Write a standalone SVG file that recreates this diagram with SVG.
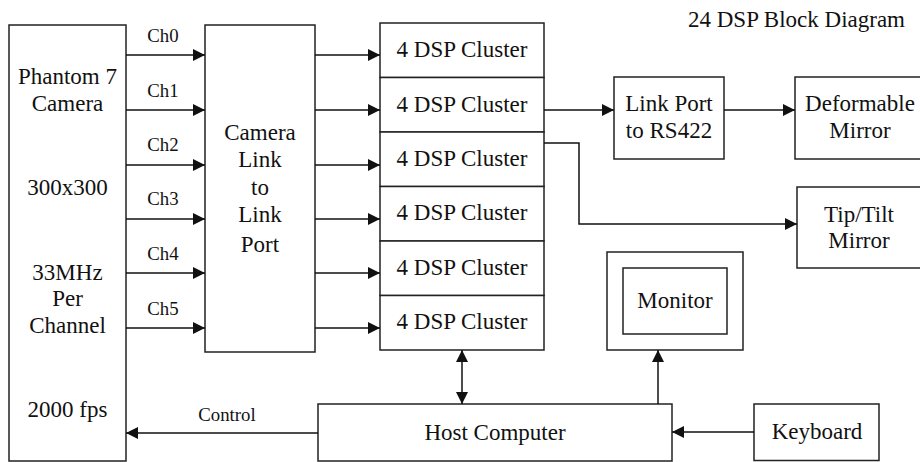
<svg xmlns="http://www.w3.org/2000/svg" width="920" height="462" viewBox="0 0 920 462" font-family="'Liberation Serif', 'Times New Roman', serif">
<defs>
<style>
.box{fill:#fff;stroke:#222;stroke-width:1.5}
.ln{fill:none;stroke:#111;stroke-width:1.5}
.t,.s{font-family:"Liberation Serif","Times New Roman",serif;fill:#111;text-anchor:middle}
.t{font-size:23px}
.s{font-size:18.8px}
</style>
<marker id="ah" markerUnits="userSpaceOnUse" markerWidth="12" markerHeight="12" refX="12" refY="6" orient="auto-start-reverse" viewBox="0 0 12 12">
<path d="M0,0 L12,6 L0,12 z" fill="#111"/>
</marker>
</defs>
<rect width="920" height="462" fill="#fff"/>
<text class="t" x="905" y="27" style="text-anchor:end">24 DSP Block Diagram</text>

<g id="camera">
<rect class="box" x="9" y="25" width="117" height="436"/>
<text class="t" x="67.5" y="84">Phantom 7</text>
<text class="t" x="67.5" y="111">Camera</text>
<text class="t" x="67.5" y="195">300x300</text>
<text class="t" x="67.5" y="280">33MHz</text>
<text class="t" x="67.5" y="306">Per</text>
<text class="t" x="67.5" y="333">Channel</text>
<text class="t" x="67.5" y="417">2000 fps</text>
</g>

<g id="camlink">
<rect class="box" x="205" y="25" width="110" height="327"/>
<text class="t" x="260" y="140">Camera</text>
<text class="t" x="260" y="167">Link</text>
<text class="t" x="260" y="195">to</text>
<text class="t" x="260" y="222">Link</text>
<text class="t" x="260" y="252">Port</text>
</g>

<g id="dsp0"><rect class="box" x="380" y="23" width="164" height="54.5"/><text class="t" x="462" y="57">4 DSP Cluster</text></g>
<g id="dsp1"><rect class="box" x="380" y="77.5" width="164" height="54.5"/><text class="t" x="462" y="112">4 DSP Cluster</text></g>
<g id="dsp2"><rect class="box" x="380" y="132" width="164" height="54.5"/><text class="t" x="462" y="166">4 DSP Cluster</text></g>
<g id="dsp3"><rect class="box" x="380" y="186.5" width="164" height="54.5"/><text class="t" x="462" y="220">4 DSP Cluster</text></g>
<g id="dsp4"><rect class="box" x="380" y="241" width="164" height="54.5"/><text class="t" x="462" y="275">4 DSP Cluster</text></g>
<g id="dsp5"><rect class="box" x="380" y="295.5" width="164" height="54.5"/><text class="t" x="462" y="329">4 DSP Cluster</text></g>

<g id="linkport">
<rect class="box" x="614" y="77" width="110" height="82"/>
<text class="t" x="669" y="111">Link Port</text>
<text class="t" x="669" y="138">to RS422</text>
</g>

<g id="deformable">
<rect class="box" x="795" y="77" width="130" height="82"/>
<text class="t" x="860" y="111">Deformable</text>
<text class="t" x="860" y="138">Mirror</text>
</g>

<g id="tiptilt">
<rect class="box" x="797" y="187" width="128" height="81"/>
<text class="t" x="859" y="222">Tip/Tilt</text>
<text class="t" x="859" y="248">Mirror</text>
</g>

<g id="monitor">
<rect class="box" x="607" y="252" width="136" height="98"/>
<rect class="box" x="623" y="268" width="104" height="66"/>
<text class="t" x="675" y="308">Monitor</text>
</g>

<g id="host">
<rect class="box" x="318" y="404" width="354" height="57"/>
<text class="t" x="495" y="440">Host Computer</text>
</g>

<g id="keyboard">
<rect class="box" x="754" y="404" width="125" height="56.5"/>
<text class="t" x="817" y="439">Keyboard</text>
</g>

<g id="connectors">
<line class="ln" x1="126" y1="55" x2="205" y2="55" marker-end="url(#ah)"/>
<line class="ln" x1="126" y1="110" x2="205" y2="110" marker-end="url(#ah)"/>
<line class="ln" x1="126" y1="165" x2="205" y2="165" marker-end="url(#ah)"/>
<line class="ln" x1="126" y1="219" x2="205" y2="219" marker-end="url(#ah)"/>
<line class="ln" x1="126" y1="273" x2="205" y2="273" marker-end="url(#ah)"/>
<line class="ln" x1="126" y1="328" x2="205" y2="328" marker-end="url(#ah)"/>
<text class="s" x="163" y="42">Ch0</text>
<text class="s" x="163" y="97">Ch1</text>
<text class="s" x="163" y="151">Ch2</text>
<text class="s" x="163" y="205">Ch3</text>
<text class="s" x="163" y="260">Ch4</text>
<text class="s" x="163" y="315">Ch5</text>

<line class="ln" x1="315" y1="55" x2="380" y2="55" marker-end="url(#ah)"/>
<line class="ln" x1="315" y1="110" x2="380" y2="110" marker-end="url(#ah)"/>
<line class="ln" x1="315" y1="165" x2="380" y2="165" marker-end="url(#ah)"/>
<line class="ln" x1="315" y1="219" x2="380" y2="219" marker-end="url(#ah)"/>
<line class="ln" x1="315" y1="273" x2="380" y2="273" marker-end="url(#ah)"/>
<line class="ln" x1="315" y1="328" x2="380" y2="328" marker-end="url(#ah)"/>

<line class="ln" x1="544" y1="110" x2="614" y2="110" marker-end="url(#ah)"/>
<line class="ln" x1="724" y1="110" x2="795" y2="110" marker-end="url(#ah)"/>
<polyline class="ln" points="544,143 579,143 579,224 797,224" marker-end="url(#ah)"/>

<line class="ln" x1="462" y1="350" x2="462" y2="404" marker-start="url(#ah)" marker-end="url(#ah)"/>
<line class="ln" x1="658" y1="404" x2="658" y2="350" marker-end="url(#ah)"/>
<line class="ln" x1="754" y1="432" x2="672" y2="432" marker-end="url(#ah)"/>
<line class="ln" x1="318" y1="433" x2="126" y2="433" marker-end="url(#ah)"/>
<text class="s" x="227" y="421">Control</text>
</g>
</svg>
